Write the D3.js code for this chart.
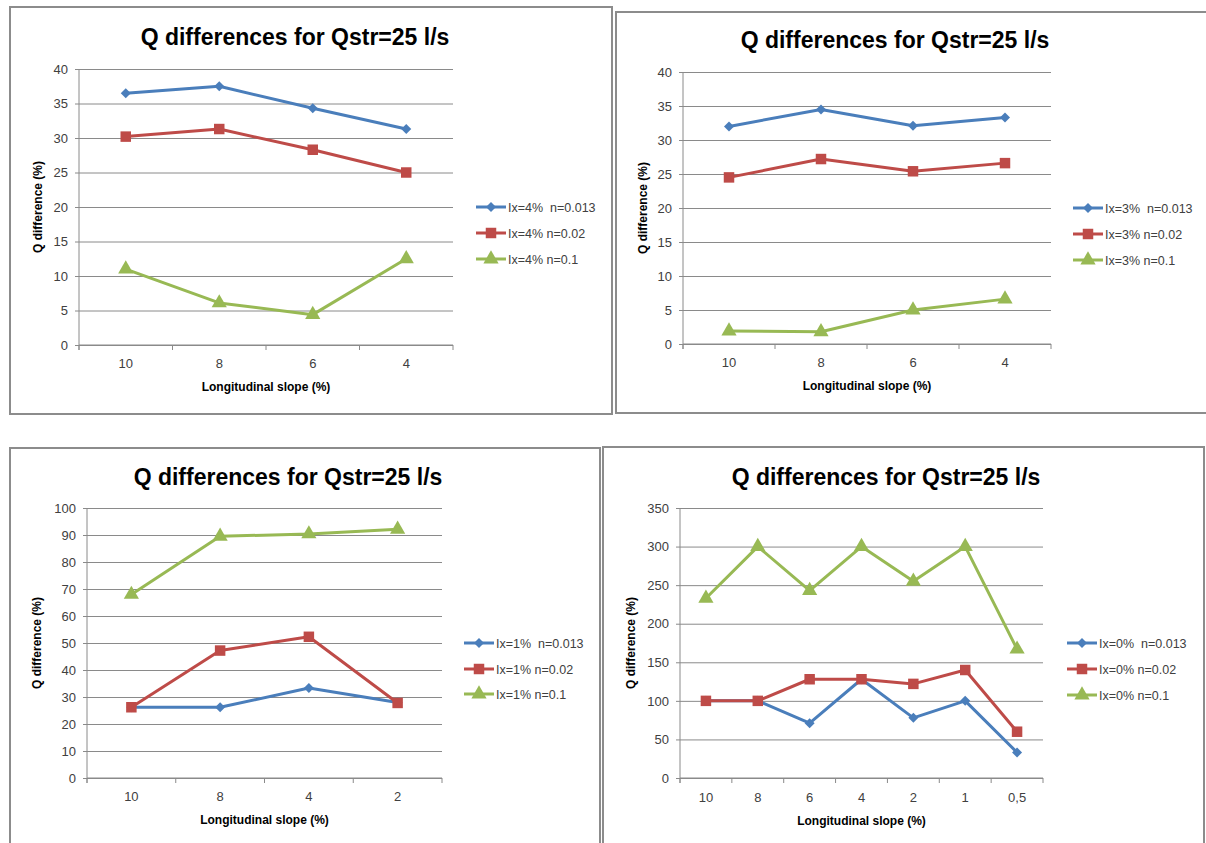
<!DOCTYPE html>
<html>
<head>
<meta charset="utf-8">
<script src="https://cdn.jsdelivr.net/npm/d3@7"></script>
<style>
  html, body { margin: 0; padding: 0; background: #fff; }
  svg { display: block; }
  text { font-family: "Liberation Sans", Arial, sans-serif; }
</style>
</head>
<body>
<svg id="chart" width="1206" height="843"></svg>
<script>
// ---------- DATA ----------
const chartTitle = "Q differences for Qstr=25 l/s";
const yAxisTitle = "Q difference (%)";
const xAxisTitle = "Longitudinal slope (%)";

// Panel A (top-left): Ix = 4%
const catsA = ["10", "8", "6", "4"];
const ticksA = [0, 5, 10, 15, 20, 25, 30, 35, 40];
const namesA = ["Ix=4%  n=0.013", "Ix=4% n=0.02", "Ix=4% n=0.1"];
const blueA  = [36.5, 37.5, 34.3, 31.3];
const redA   = [30.2, 31.3, 28.3, 25.0];
const greenA = [11.0, 6.1, 4.4, 12.5];

// Panel B (top-right): Ix = 3%
const catsB = ["10", "8", "6", "4"];
const ticksB = [0, 5, 10, 15, 20, 25, 30, 35, 40];
const namesB = ["Ix=3%  n=0.013", "Ix=3% n=0.02", "Ix=3% n=0.1"];
const blueB  = [32.0, 34.5, 32.1, 33.3];
const redB   = [24.5, 27.2, 25.4, 26.6];
const greenB = [1.9, 1.8, 5.0, 6.6];

// Panel C (bottom-left): Ix = 1%
const catsC = ["10", "8", "4", "2"];
const ticksC = [0, 10, 20, 30, 40, 50, 60, 70, 80, 90, 100];
const namesC = ["Ix=1%  n=0.013", "Ix=1% n=0.02", "Ix=1% n=0.1"];
const blueC  = [26.2, 26.2, 33.3, 28.0];
const redC   = [26.2, 47.2, 52.3, 27.8];
const greenC = [68.0, 89.5, 90.4, 92.1];

// Panel D (bottom-right): Ix = 0%
const catsD = ["10", "8", "6", "4", "2", "1", "0,5"];
const ticksD = [0, 50, 100, 150, 200, 250, 300, 350];
const namesD = ["Ix=0%  n=0.013", "Ix=0% n=0.02", "Ix=0% n=0.1"];
const blueD  = [100, 100, 71, 128, 78, 100, 33];
const redD   = [100, 100, 128, 128, 122, 140, 60];
const greenD = [233, 300, 243, 300, 255, 300, 167];

// ---------- STYLE / LAYOUT ----------
const colors = ["#4A7EBB", "#BE4B48", "#98B954"];
const markers = [d3.symbolSquare, d3.symbolSquare, d3.symbolTriangle];
const markerRot = [45, 0, 0];
const markerSizes = [50, 110, 100];

const panels = [
  { cats: catsA, ticks: ticksA, names: namesA, series: [blueA, redA, greenA],
    border: [10, 7, 602, 407], plot: [79, 453, 69, 345],
    titleX: 295, titleY: 45, yTitleX: 42, xLabelY: 368, xTitleY: 391,
    legX: 476, legY: [207, 233, 259] },
  { cats: catsB, ticks: ticksB, names: namesB, series: [blueB, redB, greenB],
    border: [616, 12, 600, 401], plot: [683, 1051, 72, 344],
    titleX: 895, titleY: 48, yTitleX: 647, xLabelY: 367, xTitleY: 390,
    legX: 1073, legY: [208, 234, 260] },
  { cats: catsC, ticks: ticksC, names: namesC, series: [blueC, redC, greenC],
    border: [10, 448, 590, 410], plot: [87, 442, 508, 778],
    titleX: 288, titleY: 485, yTitleX: 41, xLabelY: 801, xTitleY: 824,
    legX: 464, legY: [643, 669, 694] },
  { cats: catsD, ticks: ticksD, names: namesD, series: [blueD, redD, greenD],
    border: [603, 447, 601, 410], plot: [680, 1043, 508, 778],
    titleX: 886, titleY: 485, yTitleX: 635, xLabelY: 802, xTitleY: 825,
    legX: 1067, legY: [643, 669, 695] }
];

const svg = d3.select("#chart");
const gridColor = "#8a8a8a";
const labelColor = "#404040";

panels.forEach(p => {
  const g = svg.append("g");
  const [bx, by, bw, bh] = p.border;
  g.append("rect").attr("x", bx).attr("y", by).attr("width", bw).attr("height", bh)
    .attr("fill", "#fff").attr("stroke", "#8c8c8c").attr("stroke-width", 2);

  const [x0, x1, yT, yB] = p.plot;
  const x = d3.scaleBand().domain(p.cats).range([x0, x1]).padding(0);
  const y = d3.scaleLinear().domain([0, d3.max(p.ticks)]).range([yB, yT]);

  // y axis with gridlines
  const yAxis = d3.axisLeft(y).tickValues(p.ticks).tickSize(-(x1 - x0)).tickSizeOuter(0).tickPadding(11);
  const ya = g.append("g").attr("transform", `translate(${x0},0)`).call(yAxis);
  ya.select(".domain").remove();
  ya.selectAll(".tick line").attr("x1", -4).attr("stroke", gridColor).attr("stroke-width", 1);
  ya.selectAll(".tick text").attr("fill", labelColor).attr("font-size", 13)
    .attr("font-family", "Liberation Sans, Arial, sans-serif");

  // y axis line
  g.append("line").attr("x1", x0).attr("x2", x0).attr("y1", yT).attr("y2", yB + 5)
    .attr("stroke", gridColor).attr("stroke-width", 1);

  // x axis
  const xAxis = d3.axisBottom(x).tickSize(0).tickPadding(0);
  const xa = g.append("g").attr("transform", `translate(0,${yB})`).call(xAxis);
  xa.select(".domain").remove();
  xa.selectAll(".tick text").attr("y", p.xLabelY - yB).attr("dy", 0)
    .attr("fill", labelColor).attr("font-size", 13)
    .attr("font-family", "Liberation Sans, Arial, sans-serif");
  g.append("line").attr("x1", x0).attr("x2", x1).attr("y1", yB).attr("y2", yB)
    .attr("stroke", gridColor).attr("stroke-width", 1);
  const edges = p.cats.map(c => x(c)).concat([x.range()[1]]);
  g.selectAll(".xedge").data(edges).enter().append("line")
    .attr("x1", d => d).attr("x2", d => d).attr("y1", yB).attr("y2", yB + 5)
    .attr("stroke", gridColor).attr("stroke-width", 1);

  // series
  const line = d3.line().x((d, i) => x(p.cats[i]) + x.bandwidth() / 2).y(d => y(d));
  p.series.forEach((vals, si) => {
    g.append("path").datum(vals).attr("d", line).attr("fill", "none")
      .attr("stroke", colors[si]).attr("stroke-width", 3).attr("stroke-linejoin", "round");
  });
  p.series.forEach((vals, si) => {
    g.selectAll(null).data(vals).enter().append("path")
      .attr("d", d3.symbol().type(markers[si]).size(markerSizes[si]))
      .attr("transform", (d, i) => `translate(${x(p.cats[i]) + x.bandwidth() / 2},${y(d)}) rotate(${markerRot[si]})`)
      .attr("fill", colors[si]);
  });

  // titles
  g.append("text").attr("x", p.titleX).attr("y", p.titleY).attr("text-anchor", "middle")
    .attr("font-size", 23).attr("font-weight", "bold").attr("fill", "#000").text(chartTitle);
  g.append("text").attr("transform", `translate(${p.yTitleX},${(yT + yB) / 2}) rotate(-90)`)
    .attr("text-anchor", "middle").attr("font-size", 12).attr("font-weight", "bold")
    .attr("fill", "#000").text(yAxisTitle);
  g.append("text").attr("x", (x0 + x1) / 2).attr("y", p.xTitleY).attr("text-anchor", "middle")
    .attr("font-size", 12).attr("font-weight", "bold").attr("fill", "#000").text(xAxisTitle);

  // legend
  p.names.forEach((name, si) => {
    const ly = p.legY[si];
    g.append("line").attr("x1", p.legX).attr("x2", p.legX + 30).attr("y1", ly).attr("y2", ly)
      .attr("stroke", colors[si]).attr("stroke-width", 3);
    g.append("path").attr("d", d3.symbol().type(markers[si]).size(markerSizes[si]))
      .attr("transform", `translate(${p.legX + 15},${ly}) rotate(${markerRot[si]})`).attr("fill", colors[si]);
    g.append("text").attr("x", p.legX + 32).attr("y", ly + 4.5)
      .attr("font-size", 12.5).attr("fill", labelColor)
      .style("white-space", "pre").attr("xml:space", "preserve").text(name);
  });
});
</script>
</body>
</html>
